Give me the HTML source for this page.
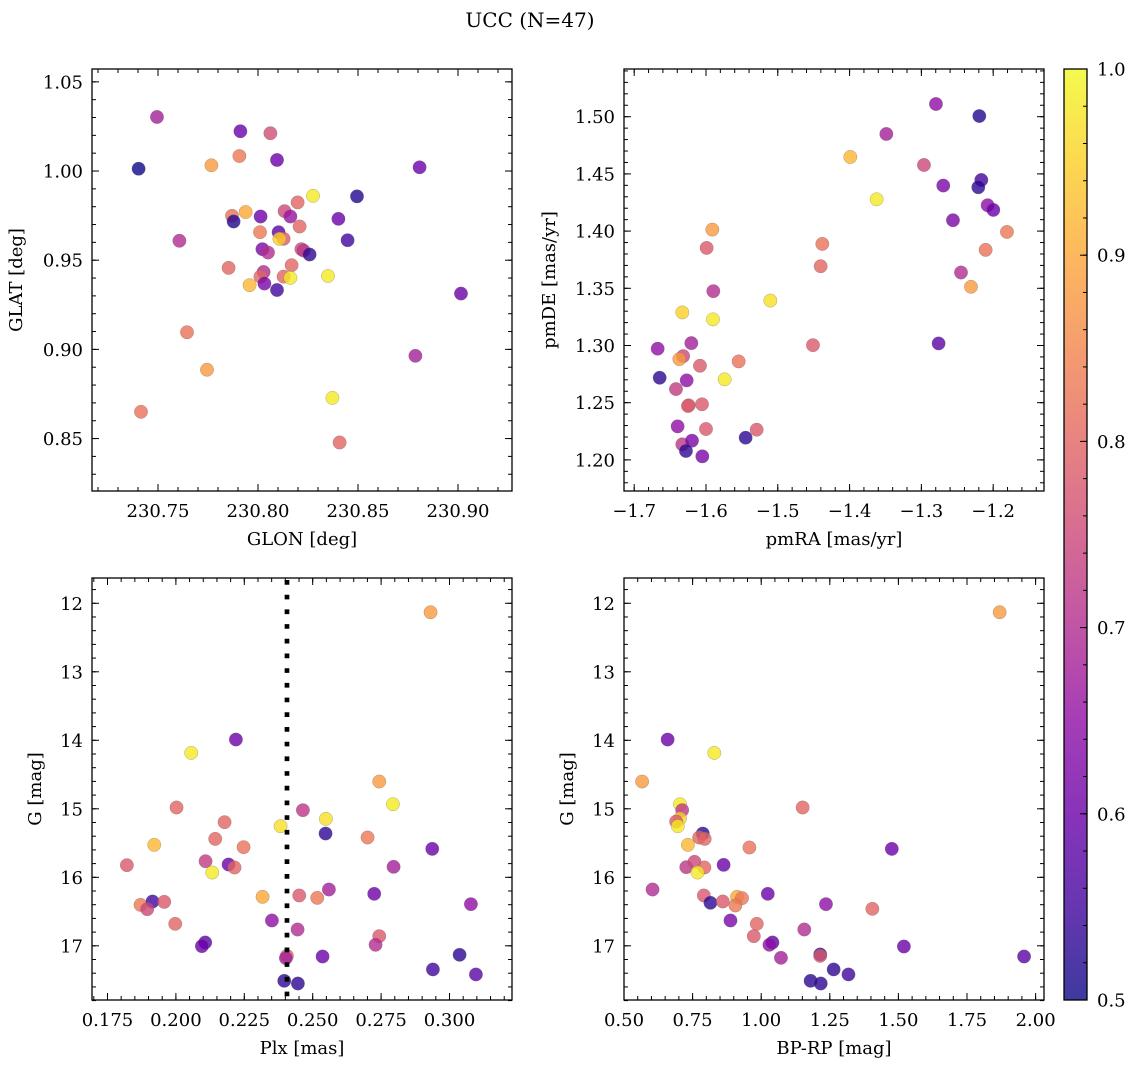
<!DOCTYPE html>
<html><head><meta charset="utf-8"><style>
html,body{margin:0;padding:0;background:#fff;}
svg{display:block;font-family:"DejaVu Serif","Liberation Serif",serif;}
</style></head><body>
<svg id="fig" width="1136" height="1068" viewBox="0 0 1136 1068">
<text x="530" y="27" font-size="20" text-anchor="middle">UCC (N=47)</text>
</svg>
<script>
// ---- data ----
const tlX=[230.7495,230.7912,230.8062,230.7907,230.7767,230.7403,230.8095,230.8808,230.8495,230.8275,230.8198,230.7938,230.7870,230.7878,230.8013,230.8133,230.8162,230.8402,230.8208,230.8010,230.8103,230.8128,230.8107,230.7607,230.8448,230.8022,230.8050,230.8217,230.8228,230.8258,230.7853,230.8168,230.8028,230.8012,230.8128,230.8162,230.8032,230.8095,230.7958,230.8350,230.7645,230.8787,230.7745,230.8372,230.7415,230.8408,230.9015];
const tlY=[1.0303,1.0223,1.0212,1.0084,1.0032,1.0013,1.0062,1.0021,0.9858,0.9861,0.9824,0.9770,0.9749,0.9717,0.9745,0.9775,0.9745,0.9732,0.9689,0.9657,0.9657,0.9620,0.9620,0.9609,0.9612,0.9562,0.9543,0.9562,0.9554,0.9532,0.9457,0.9472,0.9434,0.9408,0.9408,0.9401,0.9369,0.9333,0.9360,0.9412,0.9096,0.8964,0.8886,0.8728,0.8650,0.8478,0.9313];
const tlP=[.68,.6,.76,.83,.88,.5,.6,.6,.52,.98,.8,.9,.82,.52,.6,.75,.66,.6,.8,.83,.58,.78,.95,.7,.55,.62,.7,.75,.72,.53,.8,.8,.7,.8,.8,.98,.62,.55,.92,.98,.82,.68,.88,.98,.82,.8,.6];

const trX=[-1.2797,-1.2193,-1.3488,-1.3990,-1.2964,-1.2165,-1.2207,-1.2695,-1.3623,-1.2077,-1.1998,-1.2560,-1.1808,-1.5912,-1.5991,-1.4380,-1.2105,-1.4403,-1.2448,-1.5898,-1.2309,-1.5104,-1.6330,-1.5903,-1.4510,-1.6204,-1.6673,-1.2760,-1.6318,-1.6371,-1.5545,-1.6084,-1.6645,-1.5740,-1.6269,-1.6418,-1.6241,-1.6056,-1.6251,-1.6395,-1.6000,-1.5294,-1.5448,-1.6330,-1.6195,-1.6279,-1.6051];
const trY=[1.5111,1.5006,1.4849,1.4648,1.4578,1.4447,1.4383,1.4398,1.4278,1.4226,1.4185,1.4095,1.3993,1.4013,1.3853,1.3888,1.3836,1.3693,1.3638,1.3475,1.3513,1.3393,1.3289,1.3228,1.3003,1.3021,1.2972,1.3018,1.2907,1.2881,1.2861,1.2823,1.2718,1.2704,1.2695,1.2619,1.2477,1.2486,1.2471,1.2293,1.2270,1.2264,1.2194,1.2136,1.2168,1.2078,1.2031];
const trP=[.65,.52,.68,.92,.75,.55,.53,.62,.98,.65,.6,.62,.83,.88,.78,.82,.82,.8,.7,.7,.88,.97,.95,.98,.78,.68,.65,.58,.75,.88,.82,.78,.53,.98,.65,.73,.8,.78,.78,.65,.78,.78,.53,.72,.62,.53,.62];

const blX=[0.29308,0.22193,0.20560,0.27432,0.27931,0.24642,0.25482,0.23826,0.25470,0.20024,0.21779,0.21438,0.27005,0.19208,0.22473,0.29369,0.21084,0.21925,0.22144,0.18209,0.27956,0.21329,0.25592,0.27249,0.23168,0.24508,0.25166,0.18709,0.19147,0.19574,0.18952,0.30782,0.23509,0.24447,0.27432,0.19976,0.21072,0.20950,0.27298,0.25361,0.24057,0.24020,0.30368,0.29393,0.30965,0.23960,0.24459];
const blG=[12.131,13.989,14.184,14.602,14.933,15.020,15.147,15.254,15.361,14.981,15.195,15.439,15.419,15.526,15.560,15.585,15.765,15.813,15.857,15.823,15.847,15.930,16.178,16.241,16.285,16.265,16.300,16.402,16.353,16.358,16.465,16.392,16.630,16.762,16.859,16.679,16.951,17.005,16.985,17.156,17.146,17.180,17.131,17.345,17.418,17.511,17.550];
const blP=[.88,.6,.98,.88,.98,.72,.97,.97,.53,.8,.8,.8,.83,.92,.82,.6,.73,.6,.8,.78,.68,.98,.68,.6,.9,.78,.83,.83,.55,.78,.75,.65,.65,.7,.78,.8,.58,.6,.7,.6,.8,.68,.53,.55,.58,.53,.53];
const plxLine=[0.2406];

const brX=[1.869,0.659,0.829,0.566,0.704,0.712,0.704,0.690,0.696,1.151,0.787,0.774,0.794,0.733,0.957,1.476,0.727,0.757,0.793,0.863,0.768,0.604,1.024,0.791,0.815,0.860,0.912,0.930,0.906,1.236,1.405,0.888,0.984,1.157,0.973,1.041,1.030,1.520,1.072,1.215,1.215,1.958,1.264,1.318,1.180,1.217];
const brG=[12.131,13.989,14.184,14.602,14.933,15.020,15.142,15.186,15.254,14.981,15.361,15.419,15.439,15.526,15.565,15.585,15.852,15.774,15.857,15.818,15.930,16.178,16.241,16.265,16.372,16.353,16.285,16.304,16.411,16.392,16.460,16.630,16.679,16.762,16.859,16.951,16.985,17.010,17.175,17.126,17.146,17.156,17.345,17.418,17.511,17.550];
const brP=[.88,.6,.98,.88,.98,.72,.95,.78,.98,.8,.53,.8,.8,.92,.82,.6,.72,.75,.8,.6,.98,.7,.6,.78,.53,.78,.9,.83,.83,.65,.8,.62,.8,.7,.78,.58,.65,.6,.68,.53,.78,.58,.53,.55,.53,.53];

const cbTicks=[0.5,0.6,0.7,0.8,0.9,1.0];

// ---- helpers ----
const NS='http://www.w3.org/2000/svg';
const svg=document.getElementById('fig');
const FS=18;
function mk(tag,attrs,parent){const e=document.createElementNS(NS,tag);for(const k in attrs)e.setAttribute(k,attrs[k]);(parent||svg).appendChild(e);return e;}
const stops=[[13,8,135],[65,4,157],[106,0,168],[143,13,164],[177,42,144],[204,71,120],[225,100,98],[242,132,75],[252,166,54],[252,206,37],[240,249,33]];
function plasma(t){t=Math.max(0,Math.min(1,t));const f=t*10,i=Math.min(9,Math.floor(f)),r=f-i;const a=stops[i],b=stops[i+1];return 'rgb('+[0,1,2].map(k=>Math.round(a[k]+(b[k]-a[k])*r)).join(',')+')';}
function cnorm(p){return (p-0.5)/0.5;}

function panel(name,box,xd,yd,xMaj,xMin,xFmt,yMaj,yMin,yFmt,xLabel,yLabel,xs,ys,ps,yLabelX){
  const [x0,y0,w,h]=box;
  const sx=v=>x0+(v-xd[0])/(xd[1]-xd[0])*w;
  const sy=v=>y0+(yd[1]-v)/(yd[1]-yd[0])*h;
  const g=mk('g',{});
  
  
  const pts=mk('g',{},g);
  
  
  for(let i=0;i<xs.length;i++){
    const c=mk('circle',{cx:sx(xs[i]),cy:sy(ys[i]),r:6.7,fill:plasma(cnorm(ps[i])),'fill-opacity':0.8,stroke:'#666','stroke-opacity':0.5,'stroke-width':0.5},pts);
    
    
  }
  const fr=mk('rect',{x:x0,y:y0,width:w,height:h,fill:'none',stroke:'#000','stroke-width':1.3},g);
  
  
  const tk=mk('g',{stroke:'#000','stroke-width':1},g);
  function inX(v){return v>=Math.min(...xd)-1e-9&&v<=Math.max(...xd)+1e-9;}
  function inY(v){return v>=Math.min(...yd)-1e-9&&v<=Math.max(...yd)+1e-9;}
  const xl=mk('g',{'font-size':FS,'text-anchor':'middle'},g);
  
  
  xMin.forEach(v=>{if(!inX(v))return;const X=sx(v);mk('line',{x1:X,x2:X,y1:y0+h,y2:y0+h-4},tk);mk('line',{x1:X,x2:X,y1:y0,y2:y0+4},tk);});
  xMaj.forEach(v=>{if(!inX(v))return;const X=sx(v);mk('line',{x1:X,x2:X,y1:y0+h,y2:y0+h-7},tk);mk('line',{x1:X,x2:X,y1:y0,y2:y0+7},tk);
    const t=mk('text',{x:X,y:y0+h+26},xl);t.textContent=xFmt(v);});
  const yl=mk('g',{'font-size':FS,'text-anchor':'end'},g);
  
  
  yMin.forEach(v=>{if(!inY(v))return;const Y=sy(v);mk('line',{x1:x0,x2:x0+4,y1:Y,y2:Y},tk);mk('line',{x1:x0+w,x2:x0+w-4,y1:Y,y2:Y},tk);});
  yMaj.forEach(v=>{if(!inY(v))return;const Y=sy(v);mk('line',{x1:x0,x2:x0+7,y1:Y,y2:Y},tk);mk('line',{x1:x0+w,x2:x0+w-7,y1:Y,y2:Y},tk);
    const t=mk('text',{x:x0-9,y:Y+6.5},yl);t.textContent=yFmt(v);});
  const xt=mk('text',{x:x0+w/2,y:y0+h+54,'font-size':FS,'text-anchor':'middle'},g);
  xt.textContent=xLabel;
  
  
  const yx=yLabelX, yc=y0+h/2;
  const yt=mk('text',{x:yx,y:yc,'font-size':FS,'text-anchor':'middle',transform:'rotate(-90 '+yx+' '+yc+')'},g);
  yt.textContent=yLabel;
  
  
  return {sx,sy,g};
}
function range(a,b,s){const r=[];for(let v=a;v<=b+s*1e-6;v+=s)r.push(+v.toFixed(6));return r;}
const minus=s=>s.replace('-','\u2212');

panel('glon-glat-panel',[92,69,420,422],[230.717,230.927],[0.8206,1.0572],
  range(230.70,230.95,0.05),range(230.70,230.95,0.01),v=>v.toFixed(2),
  range(0.80,1.05,0.05),range(0.80,1.06,0.01),v=>v.toFixed(2),
  'GLON [deg]','GLAT [deg]',tlX,tlY,tlP,22);

panel('pm-panel',[624,69,420,422],[-1.7142,-1.1292],[1.1728,1.5417],
  range(-1.7,-1.2,0.1),range(-1.72,-1.12,0.02),v=>minus(v.toFixed(1)),
  range(1.20,1.50,0.05),range(1.17,1.55,0.01),v=>v.toFixed(2),
  'pmRA [mas/yr]','pmDE [mas/yr]',trX,trY,trP,555);

const bl=panel('plx-g-panel',[92,578,420,422],[0.16934,0.32284],[-17.791,-11.631],
  range(0.175,0.300,0.025),range(0.17,0.325,0.005),v=>v.toFixed(3),
  [],[],v=>'', 'Plx [mas]','G [mag]',blX,blG.map(v=>-v),blP,41);
const br=panel('bprp-g-panel',[624,578,420,422],[0.5,2.0306],[-17.791,-11.631],
  range(0.5,2.0,0.25),range(0.5,2.05,0.05),v=>v.toFixed(2),
  [],[],v=>'', 'BP-RP [mag]','G [mag]',brX,brG.map(v=>-v),brP,573);

const gMaj=[12,13,14,15,16,17];
function gTicks(p,x0,w,name){
  const tk=mk('g',{stroke:'#000','stroke-width':1},p.g);
  const yl=mk('g',{'font-size':FS,'text-anchor':'end'},p.g);
  
  
  for(let v=11.8;v<=17.8;v+=0.2){const Y=p.sy(-v);mk('line',{x1:x0,x2:x0+4,y1:Y,y2:Y},tk);mk('line',{x1:x0+w,x2:x0+w-4,y1:Y,y2:Y},tk);}
  gMaj.forEach(v=>{const Y=p.sy(-v);mk('line',{x1:x0,x2:x0+7,y1:Y,y2:Y},tk);mk('line',{x1:x0+w,x2:x0+w-7,y1:Y,y2:Y},tk);
    const t=mk('text',{x:x0-9,y:Y+6.5},yl);t.textContent=String(v);});
}
gTicks(bl,92,420,'plx-g-y-tick-labels');
gTicks(br,624,420,'bprp-g-y-tick-labels');

const dl=mk('line',{x1:bl.sx(plxLine[0]),x2:bl.sx(plxLine[0]),y1:580,y2:1000,stroke:'#000','stroke-width':4.7,'stroke-dasharray':'4.7 10'});



const defs=mk('defs',{});
const lg=mk('linearGradient',{id:'cbg',x1:0,y1:1,x2:0,y2:0},defs);
for(let i=0;i<=10;i++){mk('stop',{offset:(i*10)+'%','stop-color':plasma(i/10),'stop-opacity':0.8},lg);}
const cb=mk('g',{});


const cx0=1064,cy0=69,cw=23,ch=931;
mk('rect',{x:cx0,y:cy0,width:cw,height:ch,fill:'url(#cbg)',stroke:'#000','stroke-width':1.3},cb);
const cby=v=>cy0+(1-v)/(0.5)*ch;
for(let v=0.5;v<=1.0001;v+=0.02){const Y=cby(v);mk('line',{x1:cx0+cw,x2:cx0+cw-4,y1:Y,y2:Y,stroke:'#000'},cb);}
cbTicks.forEach(v=>{const Y=cby(v);mk('line',{x1:cx0+cw,x2:cx0+cw-7,y1:Y,y2:Y,stroke:'#000'},cb);
  const t=mk('text',{x:cx0+cw+10,y:Y+6.5,'font-size':FS},cb);t.textContent=v.toFixed(1);
  
  });
</script>
</body></html>
